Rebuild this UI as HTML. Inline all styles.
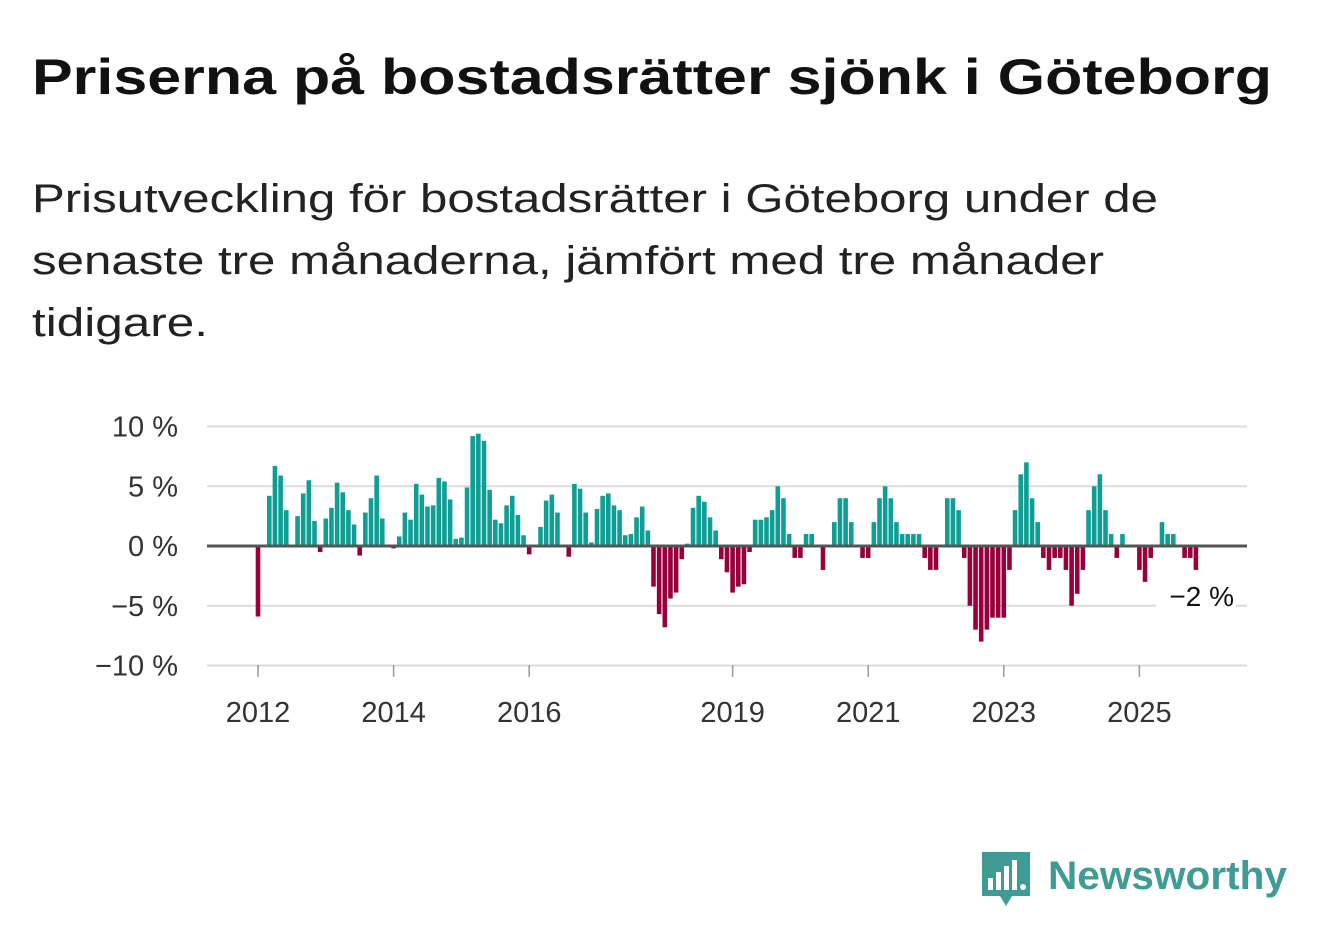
<!DOCTYPE html>
<html><head><meta charset="utf-8"><style>
html,body{margin:0;padding:0;background:#fff;}
svg{display:block;font-family:"Liberation Sans","DejaVu Sans",sans-serif;}
</style></head><body>
<svg id="chart" width="1322" height="939" viewBox="0 0 1322 939" xmlns="http://www.w3.org/2000/svg">
<text x="32" y="94" font-size="50" font-weight="bold" fill="#111" textLength="1240" lengthAdjust="spacingAndGlyphs">Priserna på bostadsrätter sjönk i Göteborg</text>
<text x="32" y="212" font-size="40" fill="#222" textLength="1126" lengthAdjust="spacingAndGlyphs">Prisutveckling för bostadsrätter i Göteborg under de</text>
<text x="32" y="274" font-size="40" fill="#222" textLength="1072" lengthAdjust="spacingAndGlyphs">senaste tre månaderna, jämfört med tre månader</text>
<text x="32" y="336" font-size="40" fill="#222" textLength="176" lengthAdjust="spacingAndGlyphs">tidigare.</text>
<g id="grid"></g><g id="bars"></g><g id="axes"></g>
<g>
<path d="M982 852 h48 v44 h-18 l-6 10 l-6 -10 h-18 z" fill="#3f9c95"/>
<rect x="988" y="878" width="5" height="12" fill="#fff"/><rect x="996" y="872" width="5" height="18" fill="#fff"/><rect x="1004" y="866" width="5" height="24" fill="#fff"/><rect x="1012" y="860" width="5" height="30" fill="#fff"/><circle cx="1023" cy="887" r="3" fill="#fff"/>
<text x="1048" y="889" font-size="40" font-weight="bold" fill="#3f9c95" textLength="239" lengthAdjust="spacingAndGlyphs">Newsworthy</text>
</g>
</svg>
<script>
const values = [-5.9,0,4.2,6.7,5.9,3.0,0,2.5,4.4,5.5,2.1,-0.5,
2.3,3.2,5.3,4.5,3.0,1.8,-0.8,2.8,4.0,5.9,2.3,0,
-0.2,0.8,2.8,2.2,5.2,4.3,3.3,3.4,5.7,5.4,3.9,0.6,
0.7,4.9,9.2,9.4,8.8,4.7,2.2,1.9,3.4,4.2,2.6,0.9,
-0.7,0,1.6,3.8,4.3,2.8,0,-0.9,5.2,4.8,2.8,0.3,
3.1,4.2,4.4,3.4,3.0,0.9,1.0,2.4,3.3,1.3,-3.4,-5.7,
-6.8,-4.4,-3.9,-1.1,0.2,3.2,4.2,3.7,2.4,1.3,-1.1,-2.2,
-3.9,-3.4,-3.2,-0.5,2.2,2.2,2.4,3.0,5.0,4.0,1.0,-1,
-1,1,1,0,-2,0,2,4,4,2,0,-1,
-1,2,4,5,4,2,1,1,1,1,-1,-2,
-2,0,4,4,3,-1,-5,-7,-8,-7,-6,-6,
-6,-2,3,6,7,4,2,-1,-2,-1,-1,-2,
-5,-4,-2,3,5,6,3,1,-1,1,0,0,
-2,-3,-1,0,2,1,1,0,-1,-1,-2];
const startYear = 2012;
const yTicks = [10,5,0,-5,-10];
const yTickLabels = ["10 %","5 %","0 %","\u22125 %","\u221210 %"];
const xTickYears = [2012,2014,2016,2019,2021,2023,2025];
const lastLabel = "\u22122 %";

const NS="http://www.w3.org/2000/svg";
function x(i){return 258+5.65*i;}
function y(v){return 546-11.95*v;}
function mk(tag,attrs,parent){const e=document.createElementNS(NS,tag);for(const k in attrs)e.setAttribute(k,attrs[k]);parent.appendChild(e);return e;}
const grid=document.getElementById('grid'),bars=document.getElementById('bars'),axes=document.getElementById('axes');
yTicks.forEach((t,k)=>{
  if(t!==0){const l=mk('line',{x1:207,x2:1247,y1:y(t),y2:y(t),stroke:'#dcdcdc','stroke-width':2},grid);
  
  }
  const tx=mk('text',{x:178,y:y(t)+10,'text-anchor':'end','font-size':29,fill:'#333'},axes);
  tx.textContent=yTickLabels[k];
  
  
});
values.forEach((v,i)=>{
  const y0=y(0),y1=y(v);
  const r=mk('rect',{x:x(i)-2.3,width:4.6,y:Math.min(y0,y1),height:Math.abs(y1-y0),fill:v>=0?'#0e9e94':'#98003c'},bars);
  
  
});
const z=mk('line',{x1:207,x2:1247,y1:y(0),y2:y(0),stroke:'#555','stroke-width':3},axes);


xTickYears.forEach(yr=>{
  const xi=x((yr-startYear)*12);
  const tk=mk('line',{x1:xi,x2:xi,y1:665,y2:677,stroke:'#999','stroke-width':1.5},axes);
  
  
  const t=mk('text',{x:xi,y:722,'text-anchor':'middle','font-size':29,fill:'#333'},axes);
  t.textContent=yr;
  
  
});
const bg=mk('rect',{x:1156,y:579,width:80,height:32,fill:'#fff'},axes);


const lv=mk('text',{x:1234,y:606,'text-anchor':'end','font-size':28,fill:'#111'},axes);
lv.textContent=lastLabel;


</script>
</body></html>
